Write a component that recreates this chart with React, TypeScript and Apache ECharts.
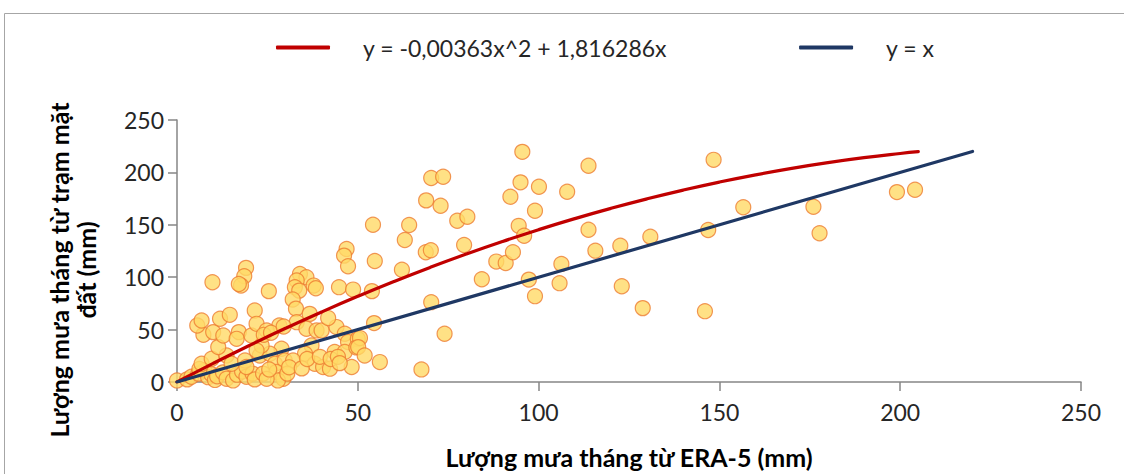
import React, { useEffect, useRef } from "react";
import * as echarts from "echarts";

// Scatter: [ERA-5 monthly rainfall (mm), station monthly rainfall (mm)]
const lowRangePoints: number[][] = [
  [0, 1.5], [2.8, 2.5], [4, 5], [5.9, 8], [7.6, 11], [8.6, 4.6], [9.5, 7.5], [10.5, 2], [11.1, 5.5],
  [12.7, 9.2], [13.7, 3.1], [15.5, 1.5], [16.6, 7], [18, 10], [19.2, 5], [20.9, 8], [21.5, 2.5],
  [6.2, 12.4], [6.8, 17.4], [9.6, 22.2], [13.7, 25.3], [15.1, 17.4], [18.8, 20.6], [19.2, 14.3],
  [22.9, 25.3], [11.4, 33.3], [7.3, 45], [10, 47.6], [12.8, 44.4], [17.1, 47.6], [16.5, 41.2],
  [20.6, 44.4], [5.6, 53.9], [6.8, 58.7], [11.9, 60.3], [14.6, 64.1], [21.5, 68.2], [22, 55.5],
  [9.8, 95.2], [19.1, 108.9], [18.6, 101], [17.7, 92], [17.1, 93.6], [25.4, 86.7],
  [34, 103], [35.8, 100], [33.1, 96.8], [32.6, 90.5], [33.8, 87.2], [37.8, 92], [38.4, 89.5],
  [44.8, 90.5], [48.7, 88.2], [32, 78.7], [32.9, 70], [46.9, 127], [46.2, 120.6], [47.3, 110.5],
  [36.7, 65], [28.3, 53.9], [24.8, 49.2], [33.1, 57.1], [35.8, 50.8], [38.6, 49.2], [40, 49.2],
  [44.1, 52.4], [46.4, 46], [41.8, 61], [47.3, 38.1], [43.6, 28.6], [46.4, 28.6], [37.2, 34.9],
  [35.4, 27], [28.9, 31.7], [25.7, 27], [23.4, 34.9], [22, 30], [27.1, 17.4], [29.8, 20.6],
  [32.1, 20.6], [38.1, 17.4], [40.4, 14.3], [42.3, 12.7], [48.3, 14.3], [23.8, 8], [27.5, 9.5],
  [29.4, 3], [27.9, 1.5], [24.8, 3], [50, 41], [49.6, 33], [24, 45], [26, 47], [29.5, 53],
  [25.5, 12], [30.5, 8], [31, 14], [34.5, 13], [36, 22], [39.5, 24], [42.5, 22], [44.5, 24], [45, 18],
];

const midRangePoints: number[][] = [
  [50.6, 41.9], [50.1, 33.3], [51.9, 25.3], [56.1, 19], [54.5, 56.2], [53.9, 86.7], [54.7, 115.5],
  [54.2, 150.1], [62.2, 107.2], [63, 135.5], [64.2, 149.8], [68.8, 123.8], [70.2, 125.7],
  [70.3, 76.2], [67.6, 12], [74, 46], [70.3, 194.6], [73.6, 195.8], [68.9, 173.3], [72.9, 168.2],
  [77.5, 153.9], [80.3, 157.7], [79.4, 130.8], [84.3, 98], [88.3, 114.9], [90.9, 113.6],
  [92.9, 123.8], [94.5, 149], [96, 139.6], [92.2, 176.8], [95, 190.5], [95.5, 219.6], [99, 163.4],
  [100.1, 186.3], [97.3, 97.7], [99, 81.9],
];

const highRangePoints: number[][] = [
  [107.9, 181.5], [113.8, 206.3], [113.8, 145.3], [115.7, 125.3], [122.6, 130.1], [130.9, 138.7],
  [146.9, 145], [148.4, 212], [106.3, 112.7], [105.8, 94.3], [123, 91.4], [128.8, 70.5],
  [146, 67.6], [156.6, 166.7], [176, 167.2], [177.7, 141.9], [199.1, 181.2], [204.1, 183.4],
];

// Fitted trend y = a*x^2 + b*x (coefficients printed in the legend)
const trendCoefficients = [-0.00363, 1.816286];
const trendXs = [0, 10, 20, 30, 40, 50, 60, 70, 80, 90, 100, 110, 120, 130, 140, 150, 160, 170, 180, 190, 200, 205];
const identityXs = [0, 220];

const legendNames = ["y = -0,00363x^2 + 1,816286x", "y = x"];
const axisTicks = [0, 50, 100, 150, 200, 250];
const xTitle = "Lượng mưa tháng từ ERA-5 (mm)";
const yTitle = "Lượng mưa tháng từ trạm mặt\nđất (mm)";

const FONT = "Lato, 'Noto Sans', sans-serif";

export default function App() {
  const ref = useRef<HTMLDivElement>(null);

  useEffect(() => {
    document.body.style.margin = "0";
    if (!ref.current) return;
    const chart = echarts.init(ref.current, undefined, { renderer: "svg" });
    const [a, b] = trendCoefficients;
    const trend = trendXs.map((x) => [x, a * x * x + b * x]);
    const identity = identityXs.map((x) => [x, x]);
    const scatter = [...lowRangePoints, ...midRangePoints, ...highRangePoints];

    chart.setOption({
      animation: false,
      backgroundColor: "#ffffff",
      textStyle: { fontFamily: FONT },
      grid: { left: 177, right: 43, top: 120, bottom: 84, containLabel: false },
      legend: {
        data: [
          { name: legendNames[0], icon: "roundRect", itemStyle: { color: "#C00000" } },
          { name: legendNames[1], icon: "roundRect", itemStyle: { color: "#1F3864" } },
        ],
        left: 271,
        top: 31,
        itemWidth: 54,
        itemHeight: 4,
        itemGap: 132,
        textStyle: { fontSize: 23, color: "#262626", fontFamily: FONT, padding: [0, 0, 0, 28] },
      },
      xAxis: {
        type: "value",
        min: axisTicks[0],
        max: axisTicks[axisTicks.length - 1],
        interval: 50,
        splitLine: { show: false },
        axisLine: { show: true, onZero: false, lineStyle: { color: "#868686", width: 1.5 } },
        axisTick: { show: true, inside: false, length: 9, lineStyle: { color: "#868686", width: 1.5 } },
        axisLabel: { fontSize: 23, color: "#262626", margin: 18, fontFamily: FONT },
        name: xTitle,
        nameLocation: "middle",
        nameGap: 62,
        nameTextStyle: { fontSize: 25, fontWeight: "bold", color: "#000", fontFamily: FONT },
      },
      yAxis: {
        type: "value",
        min: axisTicks[0],
        max: axisTicks[axisTicks.length - 1],
        interval: 50,
        splitLine: { show: false },
        axisLine: { show: true, onZero: false, lineStyle: { color: "#868686", width: 1.5 } },
        axisTick: { show: true, inside: false, length: 9, lineStyle: { color: "#868686", width: 1.5 } },
        axisLabel: { fontSize: 23, color: "#262626", margin: 13, fontFamily: FONT },
      },
      graphic: [
        {
          type: "rect",
          shape: { x: 4.5, y: 13.5, width: 1300, height: 700 },
          style: { fill: "none", stroke: "#A6A6A6", lineWidth: 1 },
          silent: true,
        },
        {
          type: "text",
          x: 72,
          y: 270,
          rotation: Math.PI / 2,
          style: {
            text: yTitle,
            fontSize: 25,
            fontWeight: "bold",
            fontFamily: FONT,
            fill: "#000",
            align: "center",
            verticalAlign: "middle",
            lineHeight: 27,
          },
        },
      ],
      series: [
        {
          type: "scatter",
          name: "data",
          data: scatter,
          symbol: "circle",
          symbolSize: 15,
          itemStyle: { color: "#FFD966", borderColor: "#ED7D31", borderWidth: 1.2 },
          z: 2,
        },
        {
          type: "line",
          name: legendNames[0],
          data: trend,
          smooth: true,
          showSymbol: false,
          symbol: "none",
          lineStyle: { color: "#C00000", width: 3.2, cap: "round" },
          itemStyle: { color: "#C00000" },
          z: 3,
        },
        {
          type: "line",
          name: legendNames[1],
          data: identity,
          showSymbol: false,
          symbol: "none",
          lineStyle: { color: "#1F3864", width: 3.2, cap: "round" },
          itemStyle: { color: "#1F3864" },
          z: 3,
        },
      ],
    });
    return () => chart.dispose();
  }, []);

  return <div ref={ref} style={{ position: "absolute", left: 0, top: 0, width: 1124, height: 474 }} />;
}
